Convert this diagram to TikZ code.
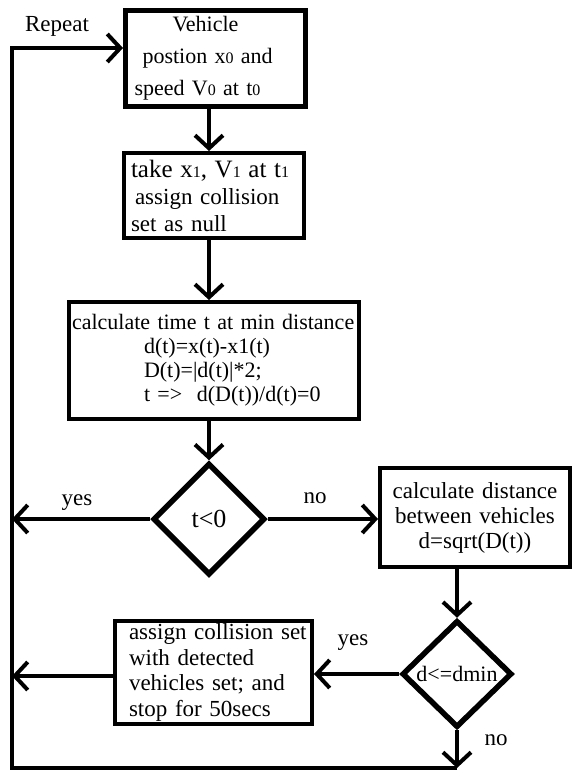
\documentclass[tikz,border=0pt]{standalone}
\usepackage{fontspec}
\setmainfont{Liberation Serif}
\usetikzlibrary{shapes.geometric,arrows.meta,calc}

% small digit used for the indices x0, V0, t0, ...
\newcommand\dg[1]{{\fontsize{16}{16}\selectfont #1}}

\begin{document}
\begin{tikzpicture}[x=1pt,y=-1pt,
  box/.style={draw,rectangle,line width=4pt,inner sep=0pt,anchor=north west},
  dec/.style={draw,diamond,aspect=1,line width=5.5pt,inner sep=0pt},
  flow/.style={line width=4pt,-{Straight Barb[length=13pt,width=28pt]}},
  lbl/.style={font=\fontsize{23}{23}\selectfont,inner sep=0pt}]
\useasboundingbox (0,0) rectangle (572,771);

% process boxes
\node[box,line width=5pt,minimum width=180pt,minimum height=96pt,
      text width=162pt,align=left,font=\fontsize{22}{32}\selectfont]
  (b1) at (123,8)
  {\hspace*{38pt}Vehicle\\ \hspace*{8pt}postion x\dg{0} and\\ speed V\dg{0} at t\dg{0}};

\node[box,minimum width=180pt,minimum height=85pt,
      text width=166pt,align=left,font=\fontsize{23}{27}\selectfont]
  (b2) at (122,151)
  {{\fontsize{25}{27}\selectfont take x\dg{1}, V\dg{1} at t\dg{1}}\\ \hspace*{4pt}assign collision\\ set as null};

\node[box,minimum width=290pt,minimum height=117pt,
      text width=284pt,align=left,font=\fontsize{22}{24}\selectfont]
  (b3) at (67,300)
  {calculate time t at min distance\\
   \hspace*{72pt}d(t)=x(t)-x1(t)\\
   \hspace*{72pt}D(t)=|d(t)|*2;\\
   \hspace*{72pt}t =>\ \ d(D(t))/d(t)=0};

\node[box,minimum width=190pt,minimum height=99pt,
      text width=180pt,align=center,font=\fontsize{23}{25}\selectfont]
  (b4) at (378,466)
  {calculate distance\\ between vehicles\\ d=sqrt(D(t))};

\node[box,minimum width=197pt,minimum height=103pt,
      text width=193pt,align=left,font=\fontsize{23}{25.5}\selectfont]
  (b5) at (113,619)
  {\hspace*{12pt}assign collision set\\ \hspace*{12pt}with detected\\ \hspace*{12pt}vehicles set; and\\ \hspace*{12pt}stop for 50secs};

% decisions
\node[dec,minimum width=112pt,minimum height=112pt,font=\fontsize{26}{26}\selectfont]
  (d1) at (209,519) {t<0};
\node[dec,minimum width=110pt,minimum height=107pt,font=\fontsize{22}{22}\selectfont]
  (d2) at (457,674) {d<=dmin};

% loop-back rail on the left
\coordinate (L1) at (12,519);
\coordinate (L2) at (12,676);
\coordinate (BL) at (12,768);
\coordinate (B)  at (457,768);
\coordinate (T)  at (12,48);

% main flow
\draw[flow] (d1.north |- b1.south) -- (d1.north |- b2.north);
\draw[flow] (d1.north |- b2.south) -- (d1.north |- b3.north);
\draw[flow] (d1.north |- b3.south) -- (d1.north);
\draw[flow] (d1.east) -- (d1.east -| b4.west);
\draw[flow] (d1.west) -- (L1);
\draw[flow] (d2.north |- b4.south) -- (d2.north);
\draw[flow] (d2.west) -- (d2.west -| b5.east);
\draw[flow] (b5.west |- L2) -- (L2);
\draw[flow] (d2.south) -- (B);
\draw[flow] (B) -- (BL) -- (T) -- (T -| b1.west);

% labels
\node[lbl] (repeat) at (57,26) {Repeat};
\node[lbl] (yes1) at (77,503) {yes};
\node[lbl] (no1) at (315,498) {no};
\node[lbl] (yes2) at (353,643) {yes};
\node[lbl] (no2) at (496,740) {no};
\end{tikzpicture}
\end{document}
